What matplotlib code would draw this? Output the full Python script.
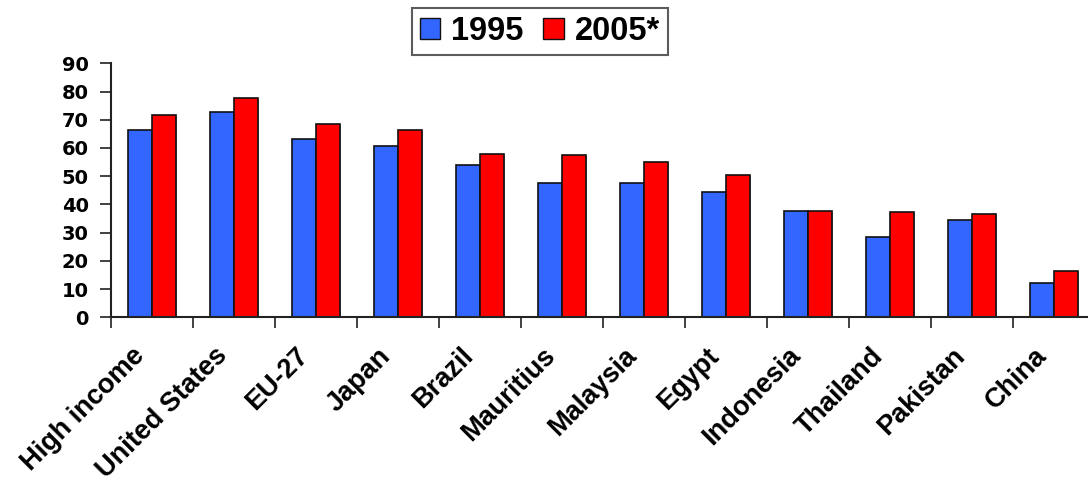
import matplotlib
matplotlib.use("Agg")
import matplotlib.pyplot as plt
import matplotlib.transforms as mtransforms
from matplotlib.patches import Patch
import numpy as np

plt.rcParams['font.family'] = ['Liberation Sans', 'DejaVu Sans']
plt.rcParams['font.weight'] = 'bold'

countries = ["High income", "United States", "EU-27", "Japan", "Brazil",
             "Mauritius", "Malaysia", "Egypt", "Indonesia", "Thailand",
             "Pakistan", "China"]
values_1995 = [66.3, 72.6, 63.1, 60.7, 53.9, 47.6, 47.6, 44.4, 37.7, 28.6, 34.5, 12.2]
values_2005 = [71.7, 77.7, 68.6, 66.3, 57.9, 57.5, 55.0, 50.3, 37.7, 37.2, 36.5, 16.3]
series_labels = ["1995", "2005*"]
yticks = list(range(0, 100, 10))

blue = "#3366FF"
red = "#FF0000"

fig = plt.figure(figsize=(10.88, 4.84), dpi=100)
ax = fig.add_axes([111 / 1088, 1 - 317.3 / 484, 984 / 1088, (317.3 - 63.3) / 484])

x = np.arange(len(countries))
w = 0.29
shadow = dict(color="#9a9a9a", linewidth=0, zorder=1)
off = 1.2 / 82
ax.bar(x - w / 2 + off, values_1995, width=w, bottom=-0.4, **shadow)
ax.bar(x + w / 2 + off, values_2005, width=w, bottom=-0.4, **shadow)
ax.bar(x - w / 2, values_1995, width=w, color=blue, edgecolor="#111111",
       linewidth=1.2, zorder=2)
ax.bar(x + w / 2, values_2005, width=w, color=red, edgecolor="#111111",
       linewidth=1.2, zorder=2)

ax.set_xlim(-0.5, len(countries) - 0.5)
ax.set_ylim(0, 90)
ax.set_yticks(yticks)
ax.set_yticklabels([str(v) for v in yticks], fontsize=14, fontweight='bold',
                   family='DejaVu Sans')

ax.set_xticks(x)
ax.set_xticks(np.arange(-0.5, len(countries), 1.0), minor=True)
ax.tick_params(axis='x', which='major', length=0, pad=25)
ax.tick_params(axis='x', which='minor', length=8, width=1.3, color="#333333")
ax.tick_params(axis='y', length=8, width=1.3, color="#333333", pad=8)
labels = ax.set_xticklabels(countries, rotation=45, ha='right', va='center',
                            rotation_mode='anchor', fontsize=19.5, fontweight='bold')
shift = mtransforms.ScaledTranslation(-11 / 100, 0, fig.dpi_scale_trans)
for lab in labels:
    lab.set_transform(lab.get_transform() + shift)

for side in ("top", "right"):
    ax.spines[side].set_visible(False)
for side in ("left", "bottom"):
    ax.spines[side].set_linewidth(1.5)
    ax.spines[side].set_color("#222222")

handles = [Patch(facecolor=blue, edgecolor="#111111", linewidth=1.0),
           Patch(facecolor=red, edgecolor="#111111", linewidth=1.0)]
leg = fig.legend(handles, series_labels, loc='center', ncol=2,
                 bbox_to_anchor=(540 / 1088, 1 - 31.5 / 484),
                 prop={'size': 23.5, 'weight': 'bold'}, frameon=True, fancybox=False,
                 handlelength=0.62, handleheight=0.62, handletextpad=0.35,
                 columnspacing=0.6, borderpad=0.25, borderaxespad=0)
leg.get_frame().set_edgecolor("#333333")
leg.get_frame().set_linewidth(1.5)

fig.savefig("out.png", dpi=100)
